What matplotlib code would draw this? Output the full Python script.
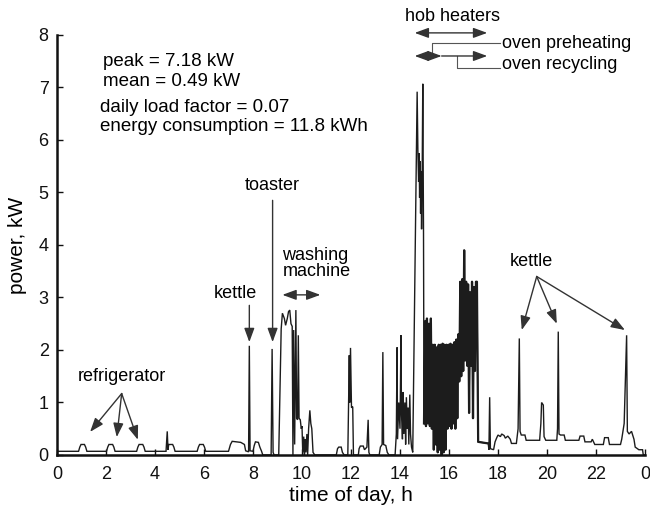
import matplotlib
matplotlib.use("Agg")
import matplotlib.pyplot as plt
import numpy as np

plt.rcParams['font.family'] = ['Liberation Sans', 'DejaVu Sans']

# ---------------- data (time of day in h, power in kW) ----------------
night_t = [0.0, 0.88, 0.93, 0.98, 1.12, 1.17, 1.22, 2.02, 2.07, 2.12, 2.27, 2.32, 2.37,
           3.25, 3.3, 3.35, 3.5, 3.55, 3.6, 4.45, 4.5, 4.53, 4.56, 4.6, 4.72, 4.77, 4.82,
           5.72, 5.77, 5.82, 5.97, 6.02, 6.07, 7.0, 7.08, 7.15, 7.5, 7.65, 7.7, 7.82,
           7.85, 7.88, 8.0, 8.05, 8.1, 8.22, 8.28]
night_p = [0.07, 0.07, 0.15, 0.2, 0.2, 0.15, 0.07, 0.07, 0.15, 0.2, 0.2, 0.15, 0.07,
           0.07, 0.15, 0.2, 0.2, 0.15, 0.07, 0.07, 0.45, 0.1, 0.2, 0.2, 0.2, 0.15, 0.07,
           0.07, 0.15, 0.2, 0.2, 0.15, 0.07, 0.07, 0.2, 0.26, 0.24, 0.2, 0.08, 0.06,
           2.08, 0.08, 0.07, 0.18, 0.25, 0.24, 0.15]

wash_t = [8.35, 8.4, 8.74, 8.78, 8.82, 8.86, 9.05, 9.15, 9.2, 9.28, 9.33, 9.4, 9.45, 9.5,
          9.55, 9.6, 9.63, 9.66, 9.7, 9.75, 9.78, 9.82, 9.85, 9.88, 9.93, 9.97, 10.0,
          10.03, 10.07, 10.1, 10.13, 10.16, 10.2, 10.23, 10.27, 10.32, 10.36, 10.4,
          10.45, 10.52]
wash_p = [0.07, 0.0, 0.0, 2.02, 0.05, 0.0, 0.0, 2.4, 2.7, 2.6, 2.47, 2.6, 2.73, 2.76,
          2.5, 2.45, 0.0, 2.38, 0.2, 2.76, 0.7, 0.67, 2.28, 0.7, 0.67, 0.5, 0.55,
          0.05, 0.35, 0.0, 0.3, 0.05, 0.4, 0.0, 0.5, 0.85, 0.6, 0.5,
          0.05, 0.0]

noon_t = [11.4, 11.45, 11.5, 11.6, 11.65, 11.72, 11.87, 11.93, 11.95, 11.98, 12.02,
          12.07, 12.1, 12.3, 12.33, 12.38, 12.5, 12.55, 12.65, 12.7, 12.73, 12.77,
          13.15, 13.2, 13.27, 13.3, 13.33, 13.42, 13.48, 13.55, 13.8, 13.85, 13.88,
          13.9, 13.95, 14.0, 14.04, 14.06, 14.1, 14.13, 14.16, 14.2, 14.23, 14.26,
          14.3, 14.33, 14.36, 14.4, 14.43, 14.47, 14.52]
noon_p = [0.0, 0.12, 0.15, 0.15, 0.05, 0.0, 0.0, 1.9, 1.0, 2.04, 0.9, 0.92, 0.0, 0.0,
          0.12, 0.17, 0.17, 0.1, 0.15, 0.67, 0.05, 0.0,
          0.0, 0.15, 0.2, 1.96, 0.2, 0.18, 0.05, 0.0, 0.0, 0.4, 2.05,
          0.3, 1.0, 0.5, 2.28, 0.8, 0.3, 1.2, 0.4, 1.0, 0.2, 1.1,
          0.5, 0.9, 0.2, 1.15, 0.4, 0.15, 0.05]

hob_t = [14.7, 14.73, 14.76, 14.78, 14.8, 14.82, 14.84, 14.86, 14.88, 14.9, 14.93,
         14.96, 14.98, 15.02, 15.06, 15.1, 15.14, 15.18, 15.22, 15.26, 15.3, 15.34,
         15.38, 15.42, 15.46, 15.5, 15.54, 15.58, 15.62, 15.66, 15.7, 15.74, 15.78,
         15.82, 15.86, 15.9, 15.94, 15.98, 16.02, 16.06, 16.1, 16.14, 16.18, 16.22,
         16.26, 16.3, 16.34, 16.38, 16.42, 16.46, 16.5, 16.54, 16.58, 16.62, 16.66,
         16.7, 16.74, 16.78, 16.82, 16.86, 16.9, 16.94, 16.98, 17.02, 17.06, 17.1,
         17.14, 17.17, 17.19]
hob_p = [6.92, 5.8, 5.2, 5.75, 4.9, 5.6, 4.6, 5.4, 4.3, 5.0, 7.07,
         4.2, 0.6, 2.55, 0.55, 2.6, 0.6, 2.5, 0.55, 2.6, 0.5, 2.1,
         0.1, 2.1, 0.2, 2.05, 0.05, 2.1, 0.1, 2.1, 0.0, 2.12, 0.05,
         2.1, 0.1, 2.1, 0.5, 2.1, 0.55, 2.12, 0.5, 2.1, 0.6, 2.15,
         0.5, 2.2, 0.7, 2.3, 1.4, 3.3, 1.5, 3.35, 1.6, 3.9, 1.8,
         3.3, 1.7, 3.25, 0.8, 3.1, 1.7, 3.3, 0.7, 3.2, 1.6, 3.3,
         3.3, 1.5, 0.25]

eve_t = [17.6, 17.63, 17.66, 17.69, 17.82, 17.88, 17.95, 18.0, 18.1, 18.15, 18.25,
         18.3, 18.4, 18.5, 18.55, 18.75, 18.82, 18.87, 18.9, 18.95, 19.1, 19.15, 19.7,
         19.75, 19.78, 19.85, 19.88, 19.95, 20.4, 20.43, 20.46, 20.49, 20.55, 20.7,
         20.75, 21.3, 21.35, 21.5, 21.55, 21.8, 21.85, 21.9, 21.95, 22.3, 22.35,
         22.5, 22.55, 23.0, 23.05, 23.15, 23.25, 23.28, 23.35, 23.45, 23.55, 23.6,
         23.75, 23.9, 23.93, 24.0]
eve_p = [0.22, 0.1, 1.1, 0.12, 0.1, 0.25, 0.33, 0.38, 0.35, 0.4, 0.37,
         0.32, 0.36, 0.3, 0.22, 0.22, 0.5, 2.22, 0.45, 0.38, 0.38, 0.28, 0.28,
         0.6, 1.0, 0.95, 0.35, 0.28, 0.28, 0.5, 2.35, 0.4, 0.38, 0.38,
         0.28, 0.28, 0.36, 0.36, 0.25, 0.25, 0.3, 0.25, 0.2, 0.2, 0.33,
         0.33, 0.2, 0.2, 0.3, 0.6, 2.28, 0.45, 0.4, 0.45, 0.3, 0.15,
         0.1, 0.1, 0.0, 0.0]

x_ticks = [0, 2, 4, 6, 8, 10, 12, 14, 16, 18, 20, 22, 24]
x_tick_labels = ['0', '2', '4', '6', '8', '10', '12', '14', '16', '18', '20', '22', '0']
y_ticks = [0, 1, 2, 3, 4, 5, 6, 7, 8]

stats_lines = ['peak = 7.18 kW', 'mean = 0.49 kW',
               'daily load factor = 0.07', 'energy consumption = 11.8 kWh']

# ---------------- figure ----------------
fig = plt.figure(figsize=(6.5, 5.13), dpi=100)
ax = fig.add_axes([0.0877, 0.1131, 0.9046, 0.8187])

t_all = night_t + wash_t + noon_t + hob_t + eve_t
p_all = night_p + wash_p + noon_p + hob_p + eve_p
line_col = '#1c1c1c'
ax.plot(t_all, p_all, color=line_col, lw=1.0, solid_joinstyle='miter')
# dense hob-heater cycling (after the oven peak) appears as an almost solid band
ax.plot(hob_t[12:] + eve_t[:1], hob_p[12:] + eve_p[:1], color=line_col, lw=1.6)

ax.set_xlim(0, 24)
ax.set_ylim(0, 8)
ax.set_xticks(x_ticks)
ax.set_xticklabels(x_tick_labels)
ax.set_yticks(y_ticks)
for s in ['top', 'right']:
    ax.spines[s].set_visible(False)
for s in ['left', 'bottom']:
    ax.spines[s].set_linewidth(1.8)
    ax.spines[s].set_color('#111111')
ax.tick_params(direction='in', length=4, width=1, labelsize=13, pad=6, colors='#111111')
ax.tick_params(axis='x', pad=8)
ax.set_xlabel('time of day, h', fontsize=15, labelpad=2)
ax.set_ylabel('power, kW', fontsize=15, labelpad=8)

# stats text
fs_stats = 13.5
ax.text(1.86, 7.49, stats_lines[0], fontsize=fs_stats, va='center', ha='left')
ax.text(1.86, 7.11, stats_lines[1], fontsize=fs_stats, va='center', ha='left')
ax.text(1.76, 6.62, stats_lines[2], fontsize=fs_stats, va='center', ha='left')
ax.text(1.76, 6.25, stats_lines[3], fontsize=fs_stats, va='center', ha='left')

arr = dict(arrowstyle='-|>,head_length=0.6,head_width=0.22', color='#333333', lw=1.0,
           mutation_scale=14, shrinkA=0, shrinkB=0)
darr = dict(arrowstyle='<|-|>,head_length=0.6,head_width=0.22', color='#333333', lw=1.0,
            mutation_scale=14, shrinkA=0, shrinkB=0)

# refrigerator
ax.text(2.64, 1.5, 'refrigerator', fontsize=13, ha='center', va='center')
for tip in [(1.35, 0.44), (2.44, 0.34), (3.3, 0.29)]:
    ax.annotate('', xy=tip, xytext=(2.64, 1.17), arrowprops=arr)

# morning kettle
ax.text(7.29, 3.08, 'kettle', fontsize=13, ha='center', va='center')
ax.annotate('', xy=(7.85, 2.15), xytext=(7.85, 2.85), arrowprops=arr)

# toaster
ax.text(8.8, 5.14, 'toaster', fontsize=13, ha='center', va='center')
ax.annotate('', xy=(8.8, 2.15), xytext=(8.8, 4.85), arrowprops=arr)

# washing machine
ax.text(9.2, 3.8, 'washing', fontsize=13, ha='left', va='center')
ax.text(9.2, 3.49, 'machine', fontsize=13, ha='left', va='center')
ax.annotate('', xy=(10.75, 3.05), xytext=(9.2, 3.05), arrowprops=darr)

# evening kettle
ax.text(19.37, 3.68, 'kettle', fontsize=13, ha='center', va='center')
for tip in [(18.97, 2.38), (20.4, 2.5), (23.18, 2.38)]:
    ax.annotate('', xy=tip, xytext=(19.58, 3.4), arrowprops=arr)

# hob / oven
ax.text(16.15, 8.35, 'hob heaters', fontsize=13, ha='center', va='center', clip_on=False)
ax.annotate('', xy=(17.56, 8.04), xytext=(14.6, 8.04), arrowprops=darr,
            annotation_clip=False)
ax.annotate('', xy=(15.7, 7.6), xytext=(14.6, 7.6), arrowprops=darr,
            annotation_clip=False)
ax.annotate('', xy=(17.56, 7.6), xytext=(15.7, 7.6), arrowprops=arr,
            annotation_clip=False)
ax.plot([15.29, 15.29, 18.1], [7.6, 7.84, 7.84], color='#555555', lw=0.8, clip_on=False)
ax.plot([16.34, 16.34, 18.1], [7.6, 7.37, 7.37], color='#555555', lw=0.8, clip_on=False)
ax.text(18.15, 7.84, 'oven preheating', fontsize=13, ha='left', va='center')
ax.text(18.15, 7.43, 'oven recycling', fontsize=13, ha='left', va='center')

fig.savefig('out.png', dpi=100)
